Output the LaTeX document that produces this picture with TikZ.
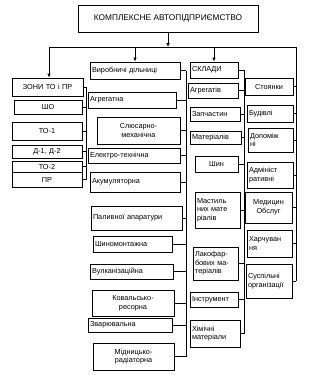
\documentclass[tikz,border=0pt]{standalone}
\usepackage{fontspec}
\setmainfont{Liberation Sans}
\usetikzlibrary{arrows.meta}
\newcommand\bx[7][left]{%
  \pgfmathsetmacro\bw{#5-#3}\pgfmathsetmacro\bh{#6-#4}%
  \pgfmathsetmacro\cx{(#3+#5)/2}\pgfmathsetmacro\cy{(#4+#6)/2}%
  \node[box,minimum width=\bw pt,minimum height=\bh pt,text width=\bw pt-4pt,align=#1] (#2) at (\cx,\cy) {#7};}
\begin{document}
\begin{tikzpicture}[x=1pt,y=-1pt,
  box/.style={draw,line width=0.7pt,inner xsep=2pt,inner ysep=0pt,font=\fontsize{7.3}{8.6}\selectfont},
  wire/.style={line width=0.7pt},
  arr/.style={wire,-{Latex[length=4pt,width=3.5pt]}}]
\useasboundingbox (0,0) rectangle (311,375);
% top
\bx[center]{top}{78}{5}{258}{32}{\fontsize{8.3}{9}\selectfont КОМПЛЕКСНЕ АВТОПІДПРИЄМСТВО}
% left column
\bx[center]{zony}{12}{78}{83}{96}{ЗОНИ ТО і ПР}
\bx[center]{sho}{14}{100}{82}{114}{ШО}
\bx[center]{to1}{12}{122}{82}{140}{ТО-1}
\bx[center]{d12}{12}{145}{82}{158}{Д-1, Д-2}
\bx[center]{to2}{12}{161}{82}{172}{ТО-2}
\bx[center]{pr}{12}{172}{82}{187}{ПР}
% middle column
\bx{viro}{90}{62}{180}{79}{Виробничі дільниці}
\bx{agr}{88}{92}{176}{108}{Агрегатна}
\bx[center]{slm}{97}{117}{180}{144}{Слюсарно-\\механічна}
\bx{elt}{88}{148}{180}{163}{Електро-технічна}
\bx{aku}{90}{172}{180}{192}{Акумуляторна}
\bx{pal}{91}{206}{182}{230}{Паливної апаратури}
\bx{shm}{93}{236}{172}{252}{Шиномонтажна}
\bx{vul}{90}{264}{173}{279}{Вулканізаційна}
\bx[center]{kov}{92}{290}{174}{316}{Ковальсько-\\ресорна}
\bx{zva}{88}{318}{172}{332}{Зварювальна}
\bx[center]{mid}{93}{343}{174}{370}{Мідницько-\\радіаторна}
% sklady column
\bx{skl}{190}{62}{238}{78}{СКЛАДИ}
\bx{sagr}{188}{83}{238}{98}{Агрегатів}
\bx{zap}{190}{107}{240}{121}{Запчастин}
\bx{mat}{190}{131}{241}{144}{Матеріалів}
\bx[center]{shyn}{195}{156}{238}{172}{Шин}
\bx{mast}{195}{192}{240}{228}{Мастиль\\них мате\\ріалів}
\bx{lak}{193}{247}{238}{280}{Лакофар-\\бових ма-\\теріалів}
\bx{inst}{190}{292}{238}{307}{Інструмент}
\bx{khim}{190}{320}{240}{347}{Хімічні\\матеріали}
% right column
\bx[center]{sto}{245}{78}{293}{95}{Стоянки}
\bx{bud}{247}{105}{293}{122}{Будівлі}
\bx{dop}{248}{128}{293}{152}{Допоміж\\ні}
\bx{adm}{247}{162}{293}{188}{Адмініст\\ративні}
\bx[center]{med}{245}{192}{292}{223}{Медицин\\Обслуг}
\bx{khar}{247}{230}{292}{257}{Харчуван\\ня}
\bx{susp}{246}{264}{292}{298}{Суспільні\\організації}
% top connectors
\coordinate (j0) at (top.south |- 0,47);
\coordinate (jL) at (49,47);
\coordinate (jV) at (viro.north |- 0,47);
\coordinate (jS) at (skl.north |- 0,47);
\coordinate (jR) at (296,47);
\draw[arr] (top.south) -- (j0);
\draw[wire] (jL) -- (jR);
\draw[arr] (jL) -- (jL |- zony.north);
\draw[arr] (jV) -- (viro.north);
\draw[arr] (jS) -- (skl.north);
% left bus
\coordinate (bl1) at (86,0);
\draw[wire] (bl1 |- zony.east) -- (bl1 |- pr.east);
\foreach \n in {zony,sho,to1,d12,to2,pr} \draw[wire] (\n.east) -- (bl1 |- \n.east);
% middle bus
\coordinate (bm1) at (186,0);
\draw[wire] (bm1 |- viro.east) -- (bm1 |- mid.east);
\foreach \n in {viro,agr,slm,elt,aku,pal,shm,vul,kov,zva,mid} \draw[wire] (\n.east) -- (bm1 |- \n.east);
% sklady bus
\coordinate (bs1) at (244,0);
\draw[wire] (bs1 |- skl.east) -- (bs1 |- khim.east);
\foreach \n in {skl,sagr,zap,mat,shyn,mast,lak,inst,khim} \draw[wire] (\n.east) -- (bs1 |- \n.east);
% right bus
\coordinate (br1) at (296,0);
\draw[wire] (jR) -- (br1 |- susp.east);
\foreach \n in {sto,bud,dop,adm,med,khar,susp} \draw[wire] (\n.east) -- (br1 |- \n.east);
\end{tikzpicture}
\end{document}
